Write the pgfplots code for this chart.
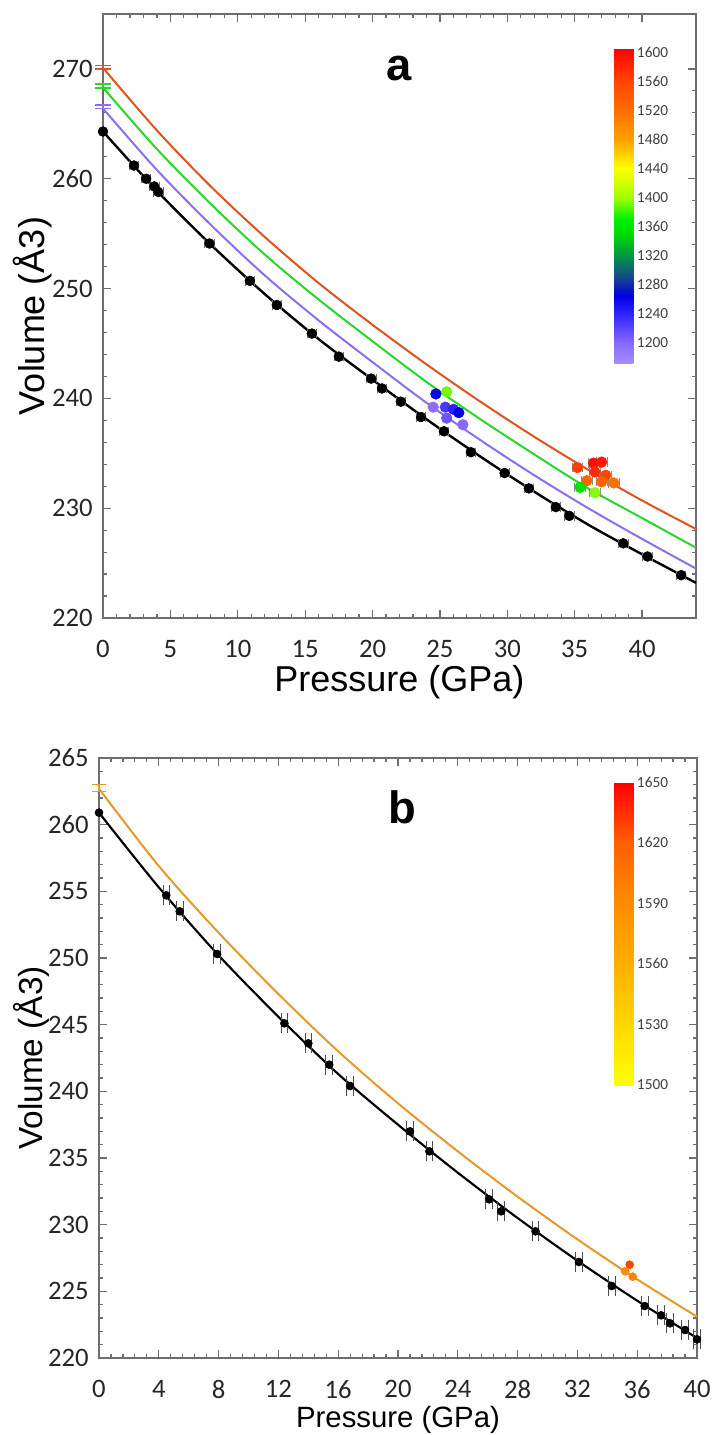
\documentclass[border=0pt]{standalone}
\usepackage{fontspec}
\setmainfont{Carlito}
\newfontfamily\arial{Liberation Sans}
\usepackage{pgfplots}
\pgfplotsset{compat=1.18}
\definecolor{fitO}{RGB}{222,84,30}
\definecolor{fitG}{RGB}{40,215,40}
\definecolor{fitV}{RGB}{140,110,240}
\definecolor{fitB}{RGB}{232,152,40}
\definecolor{frame}{RGB}{110,110,110}
\pgfplotsset{
  panel/.style={
    scale only axis, anchor=north west, clip=false,
    axis line style={frame, line width=1.2pt},
    tick style={frame, line width=0.9pt},
    major tick length=6pt, minor tick length=3pt,
    tick label style={font=\fontsize{20}{20}\selectfont, text=black!85, inner sep=1pt},
    /pgf/number format/assume math mode=true,
    xticklabel shift=15.5pt, yticklabel shift=6.5pt,
    xlabel style={at={(axis description cs:0.5,0)}, anchor=base, inner sep=0pt},
  },
  cbar/.style={
    scale only axis, anchor=north west,
    major tick length=0pt, axis line style={draw=none},
    yticklabel style={font=\fontsize{11.5}{11.5}\selectfont, text=black!75},
    /pgf/number format/assume math mode=true,
    /pgf/number format/1000 sep={},
    yticklabel shift=1.5pt,
  },
}
\begin{document}
\begin{tikzpicture}
\path[use as bounding box] (0,0) rectangle (534pt,-1076.25pt);
% ---------------- panel a ----------------
\begin{axis}[panel,
  at={(77.25pt,-10.5pt)}, width=444.75pt, height=453pt,
  xmin=0, xmax=44, ymin=220, ymax=275,
  xtick={0,5,...,40}, ytick={220,230,...,270},
  minor x tick num=4, minor y tick num=4,
  label style={font=\arial\fontsize{27}{27}\selectfont},
  xlabel={Pressure (GPa)}, ylabel={Volume (Å3)},
  xlabel style={yshift=-55pt},
  ylabel style={at={(axis description cs:0,0.5)}, anchor=center, yshift=52.5pt},
  colormap={rainT}{rgb255(0pt)=(165,140,255); rgb255(28pt)=(135,105,255); rgb255(68pt)=(45,35,255); rgb255(93pt)=(0,0,225); rgb255(118pt)=(25,70,140); rgb255(148pt)=(0,150,70); rgb255(178pt)=(0,220,0); rgb255(198pt)=(0,240,0); rgb255(228pt)=(160,255,0); rgb255(268pt)=(255,255,0); rgb255(308pt)=(255,160,0); rgb255(348pt)=(255,110,0); rgb255(388pt)=(255,70,0); rgb255(434pt)=(255,0,0)},
  point meta min=1172, point meta max=1606,
  colorbar,
  colorbar style={cbar, at={(parent axis.north west)}, xshift=375pt, yshift=-25.5pt,
    width=14.25pt, height=236.25pt, ytick={1200,1240,...,1600}},
]
\addplot[fitO, line width=1.5pt, smooth] coordinates {(0,270.1) (4,264.4) (8,259.3) (12,254.7) (16,250.5) (20,246.7) (24,243.1) (28,239.7) (32,236.5) (36,233.5) (40,230.7) (44,228.1)};
\addplot[fitG, line width=1.5pt, smooth] coordinates {(0,268.3) (4,262.7) (8,257.7) (12,253.1) (16,249.0) (20,245.2) (24,241.5) (28,238.1) (32,234.9) (36,231.8) (40,229.1) (44,226.4)};
\addplot[fitV, line width=1.5pt, smooth] coordinates {(0,266.4) (4,260.8) (8,255.8) (12,251.2) (16,247.1) (20,243.3) (24,239.6) (28,236.2) (32,233.0) (36,230.0) (40,227.2) (44,224.5)};
\addplot[black, line width=1.8pt, smooth] coordinates {(0,264.3) (4,258.9) (8,254.0) (12,249.5) (16,245.4) (20,241.7) (24,238.1) (28,234.7) (32,231.5) (36,228.5) (40,225.8) (44,223.2)};
% V0 error caps
\addplot[draw=none, error bars/.cd, y dir=both, y explicit, error bar style={fitO, line width=1pt}, error mark options={rotate=90, fitO, mark size=6pt, line width=1.2pt}] coordinates {(0,270.15) +- (0,0.17)};
\addplot[draw=none, error bars/.cd, y dir=both, y explicit, error bar style={fitG, line width=1pt}, error mark options={rotate=90, fitG, mark size=6pt, line width=1.2pt}] coordinates {(0,268.45) +- (0,0.17)};
\addplot[draw=none, error bars/.cd, y dir=both, y explicit, error bar style={fitV, line width=1pt}, error mark options={rotate=90, fitV, mark size=6pt, line width=1.2pt}] coordinates {(0,266.55) +- (0,0.17)};
% black data
\addplot[only marks, mark=*, mark size=3.7pt, black, error bars/.cd, x dir=both, x explicit, error bar style={black!55, line width=0.6pt}, error mark options={rotate=90, black!55, mark size=3.5pt, line width=0.6pt}] coordinates {
(0,264.3) +- (0,0)
(2.3,261.2) +- (0.35,0)
(3.2,260.0) +- (0.35,0)
(3.8,259.3) +- (0.35,0)
(4.1,258.8) +- (0.35,0)
(7.9,254.1) +- (0.35,0)
(10.9,250.7) +- (0.35,0)
(12.9,248.5) +- (0.35,0)
(15.5,245.9) +- (0.35,0)
(17.5,243.8) +- (0.35,0)
(19.9,241.8) +- (0.35,0)
(20.7,240.9) +- (0.35,0)
(22.1,239.7) +- (0.35,0)
(23.6,238.3) +- (0.35,0)
(25.3,237.0) +- (0.35,0)
(27.3,235.1) +- (0.35,0)
(29.8,233.2) +- (0.35,0)
(31.6,231.8) +- (0.35,0)
(33.6,230.1) +- (0.35,0)
(34.6,229.3) +- (0.35,0)
(38.6,226.8) +- (0.35,0)
(40.4,225.6) +- (0.35,0)
(42.9,223.9) +- (0.35,0)
};
% coloured data
\addplot[scatter, only marks, mark=*, mark size=4pt, scatter src=explicit,
  scatter/use mapped color={draw=mapped color, fill=mapped color},
  error bars/.cd, x dir=both, x explicit, error bar style={black!45, line width=0.6pt}, error mark options={rotate=90, black!45, mark size=3.5pt, line width=0.6pt}]
  table[meta=T, x error=E] {
P V T E
24.7 240.4 1262 0
25.5 240.6 1392 0
24.5 239.2 1195 0
25.4 239.2 1228 0
26.0 239.0 1240 0
26.4 238.7 1265 0
25.5 238.2 1212 0
26.7 237.6 1200 0
35.2 233.7 1565 0.4
36.4 234.1 1598 0.4
37.0 234.2 1590 0.4
36.5 233.3 1578 0.4
37.3 233.0 1560 0.4
35.9 232.5 1530 0.4
37.0 232.4 1532 0.4
37.9 232.3 1518 0.4
35.4 231.9 1355 0.4
36.5 231.4 1395 0.4
};
\node[font=\arial\bfseries\fontsize{34}{34}\selectfont] at (axis cs:22,270) {a};
\end{axis}
% ---------------- panel b ----------------
\begin{axis}[panel,
  at={(74.25pt,-568.5pt)}, width=448.5pt, height=450pt,
  xmin=0, xmax=40, ymin=220, ymax=265,
  xtick={0,4,...,40}, ytick={220,225,...,265},
  minor x tick num=4, minor y tick num=4,
  xlabel={Pressure (GPa)}, ylabel={Volume (Å3)},
  xlabel style={font=\arial\fontsize{22}{22}\selectfont, yshift=-51.75pt},
  ylabel style={font=\arial\fontsize{25}{25}\selectfont, at={(axis description cs:0,0.5)}, anchor=center, yshift=51pt},
  colormap={yor}{rgb255(0pt)=(255,255,0); rgb255(30pt)=(255,215,0); rgb255(60pt)=(255,175,0); rgb255(90pt)=(255,140,0); rgb255(120pt)=(255,95,0); rgb255(150pt)=(255,0,0)},
  point meta min=1500, point meta max=1650,
  colorbar,
  colorbar style={cbar, at={(parent axis.north west)}, xshift=378pt, yshift=-18pt,
    width=14.25pt, height=227.25pt, ytick={1500,1530,...,1650}},
]
\addplot[fitB, line width=1.5pt, smooth] coordinates {(0,262.7) (4,256.9) (8,251.9) (12,247.3) (16,243.0) (20,239.1) (24,235.5) (28,232.1) (32,228.9) (36,225.9) (40,223.1)};
\addplot[black, line width=1.6pt, smooth] coordinates {(0,260.9) (4,255.3) (8,250.2) (12,245.6) (16,241.3) (20,237.5) (24,233.9) (28,230.5) (32,227.3) (36,224.3) (40,221.5)};
\addplot[draw=none, error bars/.cd, y dir=both, y explicit, error bar style={fitB, line width=1pt}, error mark options={rotate=90, fitB, mark size=5.6pt, line width=1.2pt}] coordinates {(0,262.75) +- (0,0.25)};
\addplot[only marks, mark=*, mark size=3pt, black] coordinates {(0,260.9)};
\addplot[only marks, mark=*, mark size=3pt, black, error bars/.cd, x dir=both, x explicit, error bar style={black!70, line width=0.6pt}, error mark options={rotate=90, black!70, mark size=7.5pt, line width=0.7pt}] coordinates {
(4.5,254.7) +- (0.22,0)
(5.4,253.5) +- (0.22,0)
(7.9,250.3) +- (0.22,0)
(12.4,245.1) +- (0.22,0)
(14.0,243.6) +- (0.22,0)
(15.4,242.0) +- (0.22,0)
(16.8,240.4) +- (0.22,0)
(20.8,237.0) +- (0.22,0)
(22.1,235.5) +- (0.22,0)
(26.1,231.9) +- (0.22,0)
(26.9,231.0) +- (0.22,0)
(29.2,229.5) +- (0.22,0)
(32.1,227.2) +- (0.22,0)
(34.3,225.4) +- (0.22,0)
(36.5,223.9) +- (0.22,0)
(37.6,223.2) +- (0.22,0)
(38.2,222.6) +- (0.22,0)
(39.2,222.1) +- (0.22,0)
(40.0,221.4) +- (0.22,0)
};
\addplot[scatter, only marks, mark=*, mark size=3pt, scatter src=explicit,
  scatter/use mapped color={draw=mapped color, fill=mapped color}]
  table[meta=T] {
P V T
35.5 227.0 1628
35.2 226.5 1592
35.7 226.1 1598
};
\node[font=\arial\bfseries\fontsize{34}{34}\selectfont] at (axis cs:20.3,261.3) {b};
\end{axis}
\end{tikzpicture}
\end{document}
